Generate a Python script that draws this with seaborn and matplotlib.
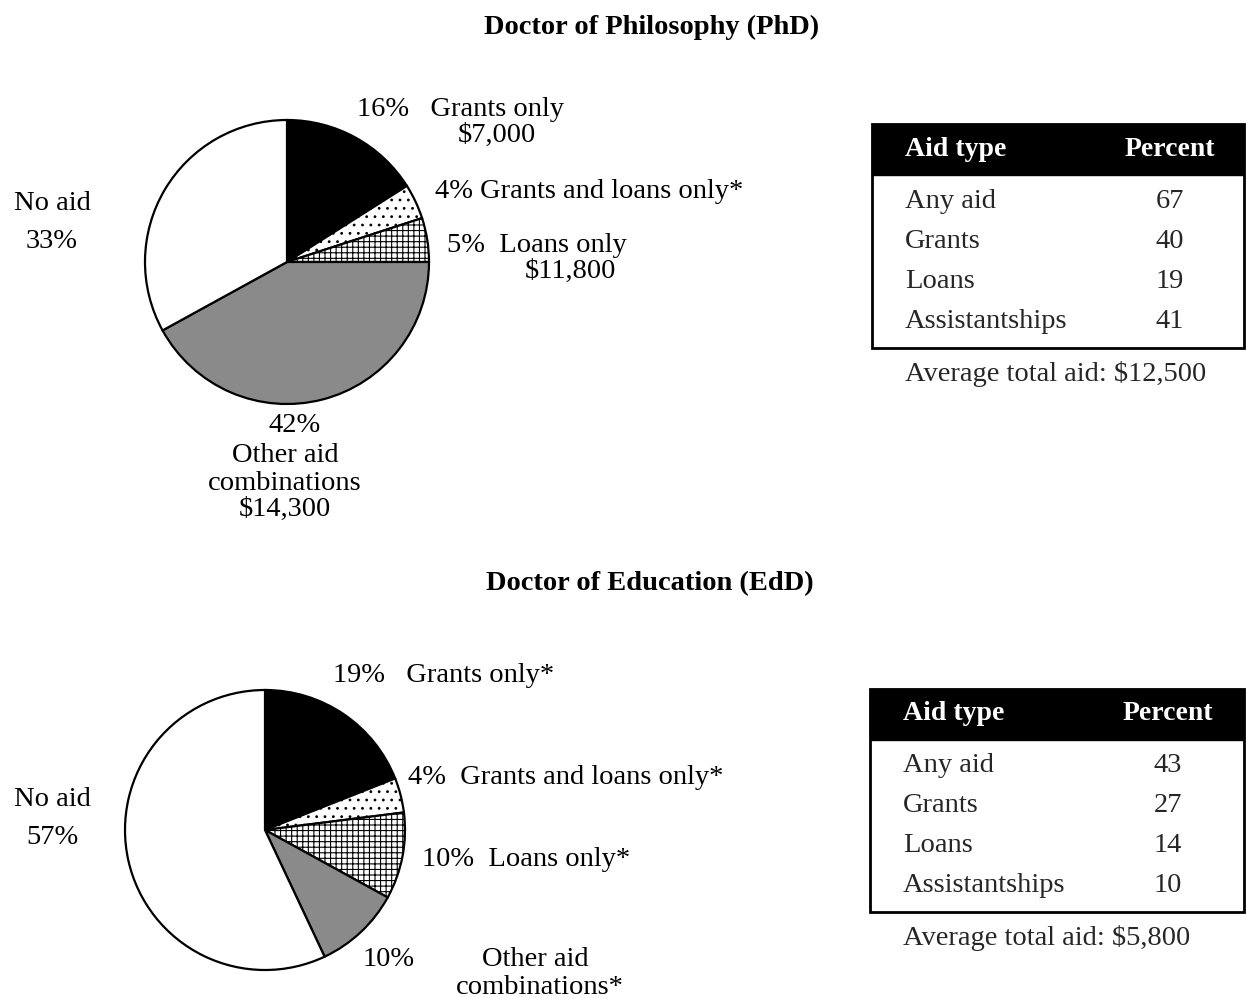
import matplotlib
matplotlib.use("Agg")
import matplotlib.pyplot as plt
import seaborn as sns
from matplotlib.patches import Rectangle

# Aid distribution for doctoral students: pie of aid packages + summary table

phd_shares = [16, 4, 5, 42, 33]
edd_shares = [19, 4, 10, 10, 57]

aid_types = ["Any aid", "Grants", "Loans", "Assistantships"]
phd_percent = [67, 40, 19, 41]
edd_percent = [43, 27, 14, 10]
phd_avg = "$12,500"
edd_avg = "$5,800"

slice_colors = ["black", "white", "white", "#8a8a8a", "white"]
slice_hatches = [None, "..", "+++", None, None]

sns.set_theme(style="white")
plt.rcParams["font.family"] = ["Liberation Serif", "DejaVu Serif"]
plt.rcParams["hatch.linewidth"] = 0.8

W, H = 1246, 998
fig = plt.figure(figsize=(W / 100, H / 100), dpi=100)
fig.patch.set_facecolor("white")
FS = 20.5


def put(x, y, s, ha="left", **kw):
    fig.text(x / W, 1 - y / H, s, ha=ha, va="center", fontsize=kw.pop("size", FS), color="black", **kw)


def draw_pie(shares, cx, cy, r):
    pad = r * 1.02
    ax = fig.add_axes([(cx - pad) / W, 1 - (cy + pad) / H, 2 * pad / W, 2 * pad / H])
    wedges, _ = ax.pie(shares, startangle=90, counterclock=False, colors=slice_colors,
                       wedgeprops=dict(edgecolor="black", linewidth=1.6))
    for w, h in zip(wedges, slice_hatches):
        if h:
            w.set_hatch(h)
    ax.set_xlim(-1.02, 1.02)
    ax.set_ylim(-1.02, 1.02)
    ax.set_aspect("equal")
    ax.axis("off")


def draw_table(x0, y0, w, h, values, avg):
    ax = fig.add_axes([x0 / W, 1 - (y0 + h) / H, w / W, h / H])
    ax.set_xlim(0, w)
    ax.set_ylim(h, 0)
    ax.axis("off")
    ax.add_patch(Rectangle((0, 0), w, 51, facecolor="black", edgecolor="black", clip_on=False))
    ax.add_patch(Rectangle((0, 0), w, h, facecolor="none", edgecolor="black", linewidth=2, clip_on=False))
    ax.text(33, 25, "Aid type", color="white", fontsize=FS - 0.5, fontweight="bold", va="center")
    ax.text(298, 25, "Percent", color="white", fontsize=FS - 0.5, fontweight="bold", va="center", ha="center")
    for i, (lab, v) in enumerate(zip(aid_types, values)):
        ax.text(33, 77 + 40 * i, lab, fontsize=FS, va="center")
        ax.text(298, 77 + 40 * i, str(v), fontsize=FS, va="center", ha="center")
    ax.text(33, h + 26, "Average total aid: " + avg, fontsize=FS, va="center", clip_on=False)


# --- PhD ---
put(652, 27, "Doctor of Philosophy (PhD)", ha="center", fontweight="bold", size=20.5)
draw_pie(phd_shares, 287, 262, 142)
put(357, 110, f"{phd_shares[0]}%   Grants only")
put(497, 135, "$7,000", ha="center")
put(435, 192, f"{phd_shares[1]}% Grants and loans only*")
put(447, 246, f"{phd_shares[2]}%  Loans only")
put(570, 271, "$11,800", ha="center")
put(52, 203, "No aid", ha="center")
put(52, 241, f"{phd_shares[4]}%", ha="center")
put(295, 425, f"{phd_shares[3]}%", ha="center")
put(285, 456, "Other aid", ha="center")
put(285, 483, "combinations", ha="center")
put(285, 509, "$14,300", ha="center")
draw_table(872, 124, 372, 224, phd_percent, phd_avg)

# --- EdD ---
put(650, 584, "Doctor of Education (EdD)", ha="center", fontweight="bold", size=20.5)
draw_pie(edd_shares, 265, 830, 140)
put(333, 676, f"{edd_shares[0]}%   Grants only*")
put(408, 778, f"{edd_shares[1]}%  Grants and loans only*")
put(422, 860, f"{edd_shares[2]}%  Loans only*")
put(389, 960, f"{edd_shares[3]}%", ha="center")
put(535, 960, "Other aid", ha="center")
put(540, 987, "combinations*", ha="center")
put(52, 800, "No aid", ha="center")
put(52, 838, f"{edd_shares[4]}%", ha="center")
draw_table(870, 689, 374, 223, edd_percent, edd_avg)

fig.savefig("out.png", dpi=100, facecolor="white")
